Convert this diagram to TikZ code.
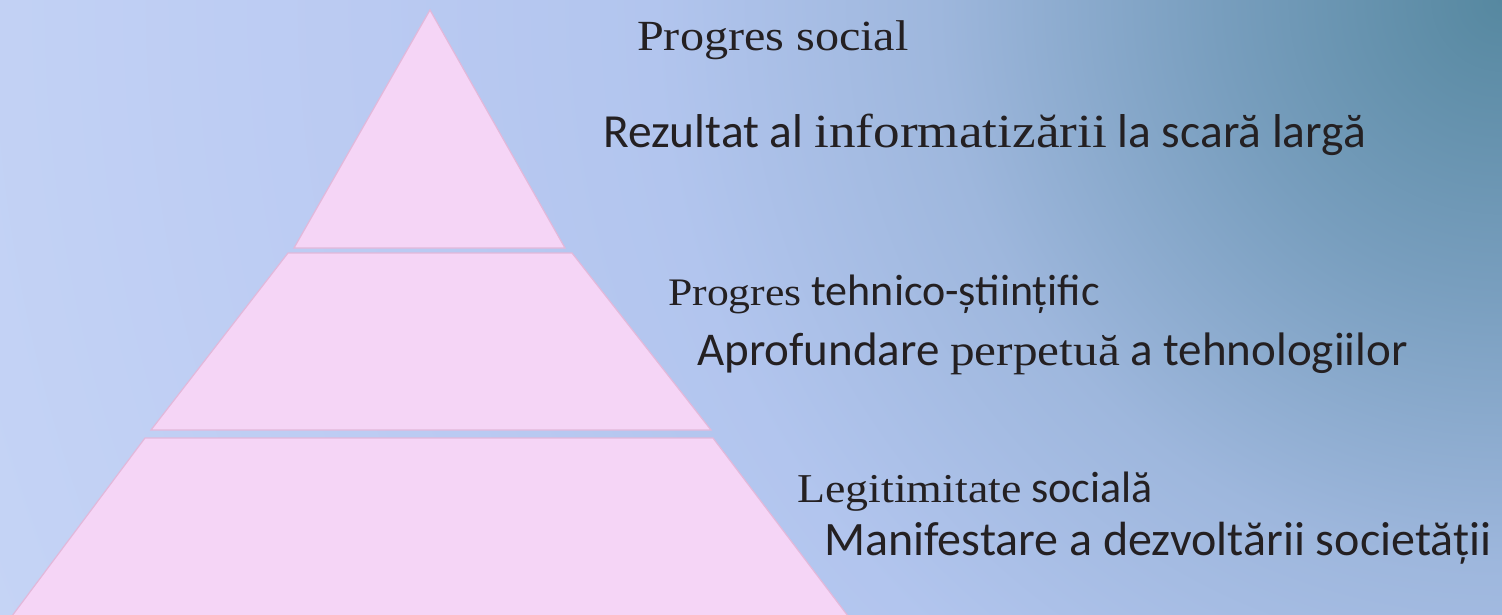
\documentclass[tikz,border=0pt]{standalone}
\usepackage{fontspec}
\setmainfont{Carlito}
\newfontfamily\serifpart[FakeStretch=1.12]{Liberation Serif}

\definecolor{bgTeal}{RGB}{86,136,160}
\definecolor{bgSteel}{RGB}{120,158,190}
\definecolor{bgBlue}{RGB}{158,183,221}
\definecolor{bgSoft}{RGB}{178,197,238}
\definecolor{bgMid}{RGB}{186,202,242}
\definecolor{bgPale}{RGB}{196,211,245}
\definecolor{bgLight}{RGB}{208,221,248}
\definecolor{tierfill}{RGB}{245,213,246}
\definecolor{tierline}{RGB}{226,184,218}
\definecolor{ink}{RGB}{36,32,34}

% light spreads out from the upper right corner
\pgfdeclareradialshading{backdrop}{\pgfpoint{0bp}{0bp}}{color(0bp)=(bgTeal); color(4.2bp)=(bgSteel); color(8.3bp)=(bgBlue); color(12.5bp)=(bgSoft); color(16.6bp)=(bgMid); color(23.3bp)=(bgPale); color(30bp)=(bgLight); color(50bp)=(bgLight)}

\begin{document}
\begin{tikzpicture}[x=1pt,y=-1pt]
\tikzstyle{tier}=[fill=tierfill,draw=tierline,line width=1.2pt];
\tikzstyle{head}=[anchor=base west,inner sep=0pt,text=ink];
\tikzstyle{sub}=[anchor=base west,inner sep=0pt,text=ink];

\useasboundingbox (0,0) rectangle (1502,614);
\begin{scope}
\clip (0,0) rectangle (1502,614);
\shade [shading=backdrop] (-198,-1700) rectangle (3202,1700);

% three tiers, top to bottom
\draw [tier] (430,10) -- (565,248) -- (294,248) -- cycle;
\draw [tier] (288,253) -- (572,253) -- (711,430) -- (151,430) -- cycle;
\draw [tier] (145,438) -- (713,438) -- (851,620) -- (9,620) -- cycle;
\end{scope}

\node [head,font=\serifpart\fontsize{43}{50}\selectfont] (top) at (637,50) {Progres social};
\node [sub,font=\fontsize{47.5}{56}\selectfont] (topsub) at (603,147) {Rezultat al {\serifpart informatizării} la scară largă};

\node [head,font=\fontsize{44}{52}\selectfont] (mid) at (668,305) {{\serifpart\fontsize{39}{46}\selectfont Progres} tehnico-științific};
\node [sub,font=\fontsize{47}{56}\selectfont] (midsub) at (697,365) {Aprofundare {\serifpart\fontsize{44}{52}\selectfont perpetuă} a tehnologiilor};

\node [head,font=\fontsize{44}{52}\selectfont] (base) at (797,502) {{\serifpart\fontsize{41}{48}\selectfont Legitimitate} socială};
\node [sub,font=\fontsize{48}{56}\selectfont] (basesub) at (824,555) {Manifestare a dezvoltării societății};
\end{tikzpicture}
\end{document}
